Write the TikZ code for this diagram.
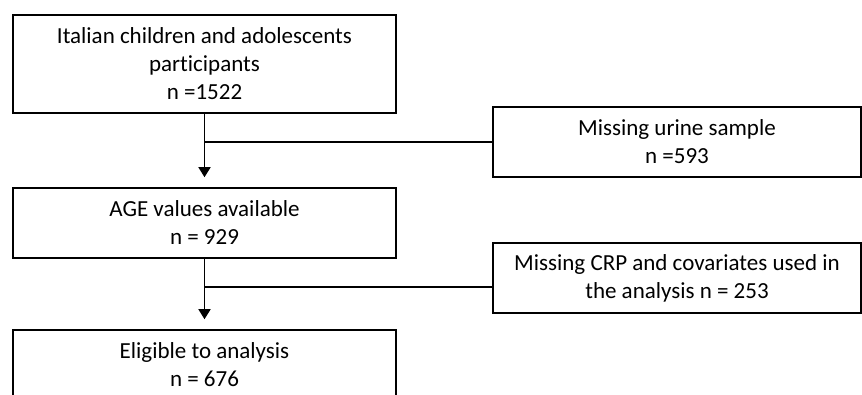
\documentclass[tikz,border=0pt]{standalone}
\usepackage{fontspec}
\setmainfont{Carlito}[Ligatures=NoCommon]
\usepackage{tikz}
\usetikzlibrary{arrows.meta}

\begin{document}
\begin{tikzpicture}[x=1pt, y=-1pt,
        box/.style={draw, rectangle, line width=1.6pt, minimum width=383pt, align=center,
            font=\fontsize{23}{28}\selectfont, inner sep=0pt},
        arrow/.style={-{Triangle[length=10pt, width=12pt]}, line width=1.6pt, shorten >=10pt}
    ]
\useasboundingbox (0,0) rectangle (862,394);
\clip (0,0) rectangle (862,394);

\node[box, minimum height=98pt] (participants) at (204.5, 64) {Italian children and adolescents\\participants\\n =1522};
        \node[box, minimum height=70pt] (available) at (204.5, 223) {AGE values available\\n = 929};
        \node[box, minimum height=70pt] (eligible) at (204.5, 365) {Eligible to analysis\\n = 676};

        \node[box, minimum width=368pt, minimum height=70pt] (urine) at (677, 142) {Missing urine sample\\n =593};
        \node[box, minimum width=368pt, minimum height=70pt] (crp) at (677, 278) {Missing CRP and covariates used in\\the analysis n = 253};

        \coordinate (split1) at (204.5, 142);
        \coordinate (split2) at (204.5, 287);

\draw[arrow] (participants) -- (available);
        \draw[arrow] (available) -- (eligible);
        \draw[line width=1.6pt] (split1) -- (urine.west);
        \draw[line width=1.6pt] (split2) -- (split2 -| crp.west);

    \end{tikzpicture}
\end{document}
